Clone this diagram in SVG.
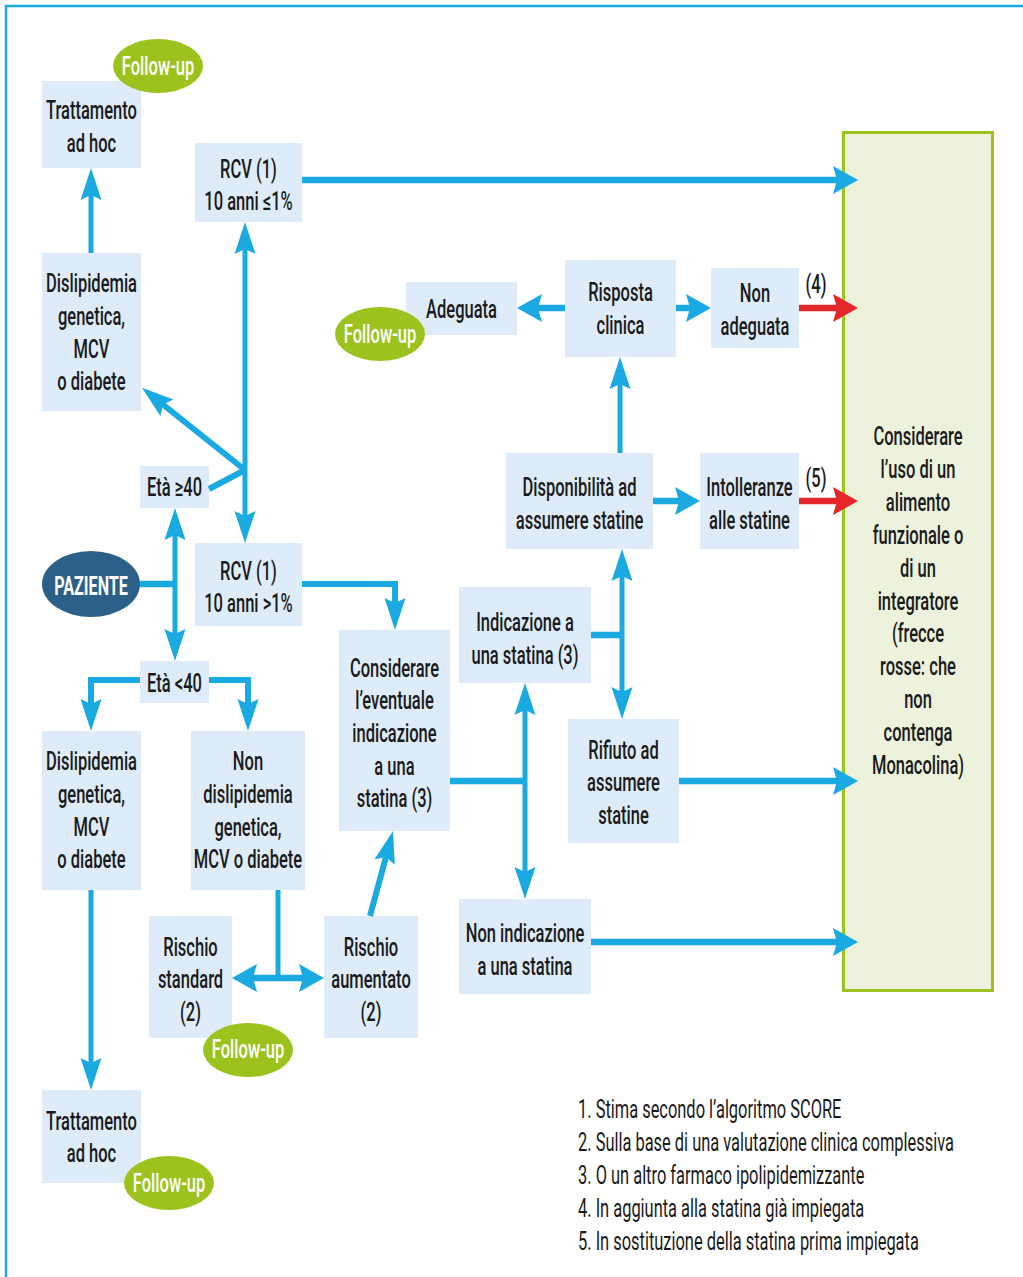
<svg xmlns="http://www.w3.org/2000/svg" width="1023" height="1277" viewBox="0 0 1023 1277">
<defs>
<style>
.n{fill:#deecf9}
.t{font-family:Roboto,"Liberation Sans",sans-serif;font-size:26px;font-weight:500;fill:#1a1a1a;text-anchor:middle}
.fe{fill:#9cc31d}
.ft{font-family:Roboto,"Liberation Sans",sans-serif;font-size:26px;font-weight:500;fill:#ffffff;text-anchor:middle}
.cv{stroke:#1ba9e1;stroke-width:5;fill:none}
.ch{stroke:#1ba9e1;stroke-width:6.5;fill:none}
.cm{stroke:#1ba9e1;stroke-width:6;fill:none}
.cr{stroke:#e5262a;stroke-width:6.5;fill:none}
.fn{font-family:Roboto,"Liberation Sans",sans-serif;font-size:26px;font-weight:400;fill:#1a1a1a}
</style>
<marker id="av" markerUnits="userSpaceOnUse" markerWidth="34" markerHeight="22" refX="14" refY="10.5" orient="auto-start-reverse" overflow="visible">
<path d="M0,0 L32,10.5 L0,21 L5,10.5 Z" fill="#1ba9e1"/>
</marker>
<marker id="ah" markerUnits="userSpaceOnUse" markerWidth="26" markerHeight="28" refX="10" refY="14" orient="auto-start-reverse" overflow="visible">
<path d="M0,0 L25,14 L0,28 L4,14 Z" fill="#1ba9e1"/>
</marker>
<marker id="ar" markerUnits="userSpaceOnUse" markerWidth="26" markerHeight="28" refX="10" refY="14" orient="auto" overflow="visible">
<path d="M0,0 L25,14 L0,28 L4,14 Z" fill="#e5262a"/>
</marker>
</defs>
<rect width="1023" height="1277" fill="#ffffff"/>
<path d="M6,1277 V6 H1023" stroke="#1ba9e1" stroke-width="2.5" fill="none"/>

<g id="n-alimento">
<rect x="843.5" y="132.5" width="149" height="858" fill="#ecf2dc" stroke="#9dc31f" stroke-width="3"/>
<text class="t" transform="translate(918,445) scale(0.635,1)"><tspan x="0" y="0">Considerare</tspan><tspan x="0" y="33">l’uso di un</tspan><tspan x="0" y="66">alimento</tspan><tspan x="0" y="99">funzionale o</tspan><tspan x="0" y="132">di un</tspan><tspan x="0" y="165">integratore</tspan><tspan x="0" y="197">(frecce</tspan><tspan x="0" y="230">rosse: che</tspan><tspan x="0" y="263">non</tspan><tspan x="0" y="296">contenga</tspan><tspan x="0" y="329">Monacolina)</tspan></text>
</g>
<g id="n-trattamento-top">
<rect class="n" x="42" y="81" width="99" height="87"/>
<text class="t" transform="translate(91.5,119) scale(0.635,1)"><tspan x="0" y="0">Trattamento</tspan><tspan x="0" y="33">ad hoc</tspan></text>
</g>
<g id="n-followup-1">
<ellipse class="fe" cx="158" cy="66" rx="45" ry="27"/>
<text class="ft" transform="translate(158,75) scale(0.635,1)">Follow-up</text>
</g>
<g id="n-rcv-low">
<rect class="n" x="195" y="143" width="107" height="79"/>
<text class="t" transform="translate(248.5,178) scale(0.635,1)"><tspan x="0" y="0">RCV (1)</tspan><tspan x="0" y="32">10 anni ≤1%</tspan></text>
</g>
<g id="n-disl-top">
<rect class="n" x="42" y="253" width="99" height="158"/>
<text class="t" transform="translate(91.5,292) scale(0.635,1)"><tspan x="0" y="0">Dislipidemia</tspan><tspan x="0" y="33">genetica,</tspan><tspan x="0" y="66">MCV</tspan><tspan x="0" y="98">o diabete</tspan></text>
</g>
<g id="n-eta-ge40">
<rect class="n" x="140" y="466" width="69" height="42"/>
<text class="t" transform="translate(174.5,496) scale(0.635,1)">Età ≥40</text>
</g>
<g id="n-paziente">
<ellipse cx="91" cy="584" rx="49" ry="33" fill="#2b6088"/>
<text class="ft" style="font-weight:700" transform="translate(91,595) scale(0.62,1)">PAZIENTE</text>
</g>
<g id="n-rcv-high">
<rect class="n" x="195" y="543" width="107" height="83"/>
<text class="t" transform="translate(248.5,580) scale(0.635,1)"><tspan x="0" y="0">RCV (1)</tspan><tspan x="0" y="32">10 anni &gt;1%</tspan></text>
</g>
<g id="n-eta-lt40">
<rect class="n" x="140" y="661" width="69" height="42"/>
<text class="t" transform="translate(174.5,692) scale(0.635,1)">Età &lt;40</text>
</g>
<g id="n-disl-bottom">
<rect class="n" x="42" y="731" width="99" height="159"/>
<text class="t" transform="translate(91.5,770) scale(0.635,1)"><tspan x="0" y="0">Dislipidemia</tspan><tspan x="0" y="33">genetica,</tspan><tspan x="0" y="66">MCV</tspan><tspan x="0" y="98">o diabete</tspan></text>
</g>
<g id="n-non-disl">
<rect class="n" x="191" y="731" width="114" height="159"/>
<text class="t" transform="translate(248,770) scale(0.635,1)"><tspan x="0" y="0">Non</tspan><tspan x="0" y="33">dislipidemia</tspan><tspan x="0" y="66">genetica,</tspan><tspan x="0" y="98">MCV o diabete</tspan></text>
</g>
<g id="n-rischio-standard">
<rect class="n" x="149" y="916" width="83" height="122"/>
<text class="t" transform="translate(190.5,956) scale(0.635,1)"><tspan x="0" y="0">Rischio</tspan><tspan x="0" y="32">standard</tspan><tspan x="0" y="65">(2)</tspan></text>
</g>
<g id="n-rischio-aumentato">
<rect class="n" x="324" y="916" width="94" height="122"/>
<text class="t" transform="translate(371,956) scale(0.635,1)"><tspan x="0" y="0">Rischio</tspan><tspan x="0" y="32">aumentato</tspan><tspan x="0" y="65">(2)</tspan></text>
</g>
<g id="n-followup-2">
<ellipse class="fe" cx="248" cy="1050" rx="45" ry="27"/>
<text class="ft" transform="translate(248,1058) scale(0.635,1)">Follow-up</text>
</g>
<g id="n-trattamento-bottom">
<rect class="n" x="42" y="1090" width="99" height="93"/>
<text class="t" transform="translate(91.5,1130) scale(0.635,1)"><tspan x="0" y="0">Trattamento</tspan><tspan x="0" y="32">ad hoc</tspan></text>
</g>
<g id="n-followup-3">
<ellipse class="fe" cx="169" cy="1183" rx="45" ry="27"/>
<text class="ft" transform="translate(169,1192) scale(0.635,1)">Follow-up</text>
</g>
<g id="n-considerare">
<rect class="n" x="339" y="630" width="111" height="201"/>
<text class="t" transform="translate(394.5,677) scale(0.635,1)"><tspan x="0" y="0">Considerare</tspan><tspan x="0" y="32">l’eventuale</tspan><tspan x="0" y="65">indicazione</tspan><tspan x="0" y="98">a una</tspan><tspan x="0" y="130">statina (3)</tspan></text>
</g>
<g id="n-indicazione">
<rect class="n" x="459" y="587" width="132" height="96"/>
<text class="t" transform="translate(525,631) scale(0.635,1)"><tspan x="0" y="0">Indicazione a</tspan><tspan x="0" y="33">una statina (3)</tspan></text>
</g>
<g id="n-rifiuto">
<rect class="n" x="568" y="719" width="111" height="124"/>
<text class="t" transform="translate(623.5,759) scale(0.635,1)"><tspan x="0" y="0">Rifiuto ad</tspan><tspan x="0" y="32">assumere</tspan><tspan x="0" y="65">statine</tspan></text>
</g>
<g id="n-non-indicazione">
<rect class="n" x="459" y="899" width="132" height="95"/>
<text class="t" transform="translate(525,942) scale(0.635,1)"><tspan x="0" y="0">Non indicazione</tspan><tspan x="0" y="33">a una statina</tspan></text>
</g>
<g id="n-risposta">
<rect class="n" x="565" y="260" width="111" height="97"/>
<text class="t" transform="translate(620.5,301) scale(0.635,1)"><tspan x="0" y="0">Risposta</tspan><tspan x="0" y="33">clinica</tspan></text>
</g>
<g id="n-adeguata">
<rect class="n" x="406" y="282" width="111" height="53"/>
<text class="t" transform="translate(461.5,318) scale(0.635,1)">Adeguata</text>
</g>
<g id="n-followup-4">
<ellipse class="fe" cx="380" cy="334" rx="45" ry="27"/>
<text class="ft" transform="translate(380,343) scale(0.635,1)">Follow-up</text>
</g>
<g id="n-non-adeguata">
<rect class="n" x="711" y="268" width="88" height="80"/>
<text class="t" transform="translate(755,302) scale(0.635,1)"><tspan x="0" y="0">Non</tspan><tspan x="0" y="33">adeguata</tspan></text>
</g>
<g id="n-disponibilita">
<rect class="n" x="506" y="453" width="147" height="96"/>
<text class="t" transform="translate(579.5,496) scale(0.635,1)"><tspan x="0" y="0">Disponibilità ad</tspan><tspan x="0" y="33">assumere statine</tspan></text>
</g>
<g id="n-intolleranze">
<rect class="n" x="700" y="453" width="99" height="96"/>
<text class="t" transform="translate(749.5,496) scale(0.635,1)"><tspan x="0" y="0">Intolleranze</tspan><tspan x="0" y="33">alle statine</tspan></text>
</g>
<g id="label-4">
<text class="t" transform="translate(816,293) scale(0.635,1)">(4)</text>
</g>
<g id="label-5">
<text class="t" transform="translate(816,487) scale(0.635,1)">(5)</text>
</g>
<g id="footnotes">
<text class="fn" transform="translate(578,1118) scale(0.632,1)"><tspan x="0" y="0">1. Stima secondo l’algoritmo SCORE</tspan><tspan x="0" y="33">2. Sulla base di una valutazione clinica complessiva</tspan><tspan x="0" y="66">3. O un altro farmaco ipolipidemizzante</tspan><tspan x="0" y="99">4. In aggiunta alla statina già impiegata</tspan><tspan x="0" y="132">5. In sostituzione della statina prima impiegata</tspan></text>
</g>

<g id="connectors">
<path class="cv" d="M91,253 V186" marker-end="url(#av)"/>
<path class="cv" d="M245,240 V525" marker-start="url(#av)" marker-end="url(#av)"/>
<path class="cm" d="M209,489 L245,470"/>
<path class="cm" d="M245,470 L156,399" marker-end="url(#av)"/>
<path class="ch" d="M302,180 H843" marker-end="url(#ah)"/>
<path class="ch" d="M140,584 H175"/>
<path class="cv" d="M175,526 V643" marker-start="url(#av)" marker-end="url(#av)"/>
<path class="cm" d="M140,680 H91 V713" marker-end="url(#av)"/>
<path class="cm" d="M209,680 H248 V713" marker-end="url(#av)"/>
<path class="cm" d="M302,584 H395 V612" marker-end="url(#av)"/>
<path class="cv" d="M91,890 V1072" marker-end="url(#av)"/>
<path class="cv" d="M278,890 V978"/>
<path class="ch" d="M247,978 H309" marker-start="url(#ah)" marker-end="url(#ah)"/>
<path class="cm" d="M370,916 L388.3,848.4" marker-end="url(#av)"/>
<path class="ch" d="M450,781 H525"/>
<path class="cv" d="M525,701 V881" marker-start="url(#av)" marker-end="url(#av)"/>
<path class="ch" d="M591,635 H622"/>
<path class="cv" d="M622,567 V701" marker-start="url(#av)" marker-end="url(#av)"/>
<path class="ch" d="M679,781 H843" marker-end="url(#ah)"/>
<path class="ch" d="M591,942 H843" marker-end="url(#ah)"/>
<path class="cv" d="M620,453 V375" marker-end="url(#av)"/>
<path class="ch" d="M653,501 H685" marker-end="url(#ah)"/>
<path class="ch" d="M565,308 H532" marker-end="url(#ah)"/>
<path class="ch" d="M676,308 H696" marker-end="url(#ah)"/>
<path class="cr" d="M799,308 H843" marker-end="url(#ar)"/>
<path class="cr" d="M799,501 H843" marker-end="url(#ar)"/>
</g>
</svg>
